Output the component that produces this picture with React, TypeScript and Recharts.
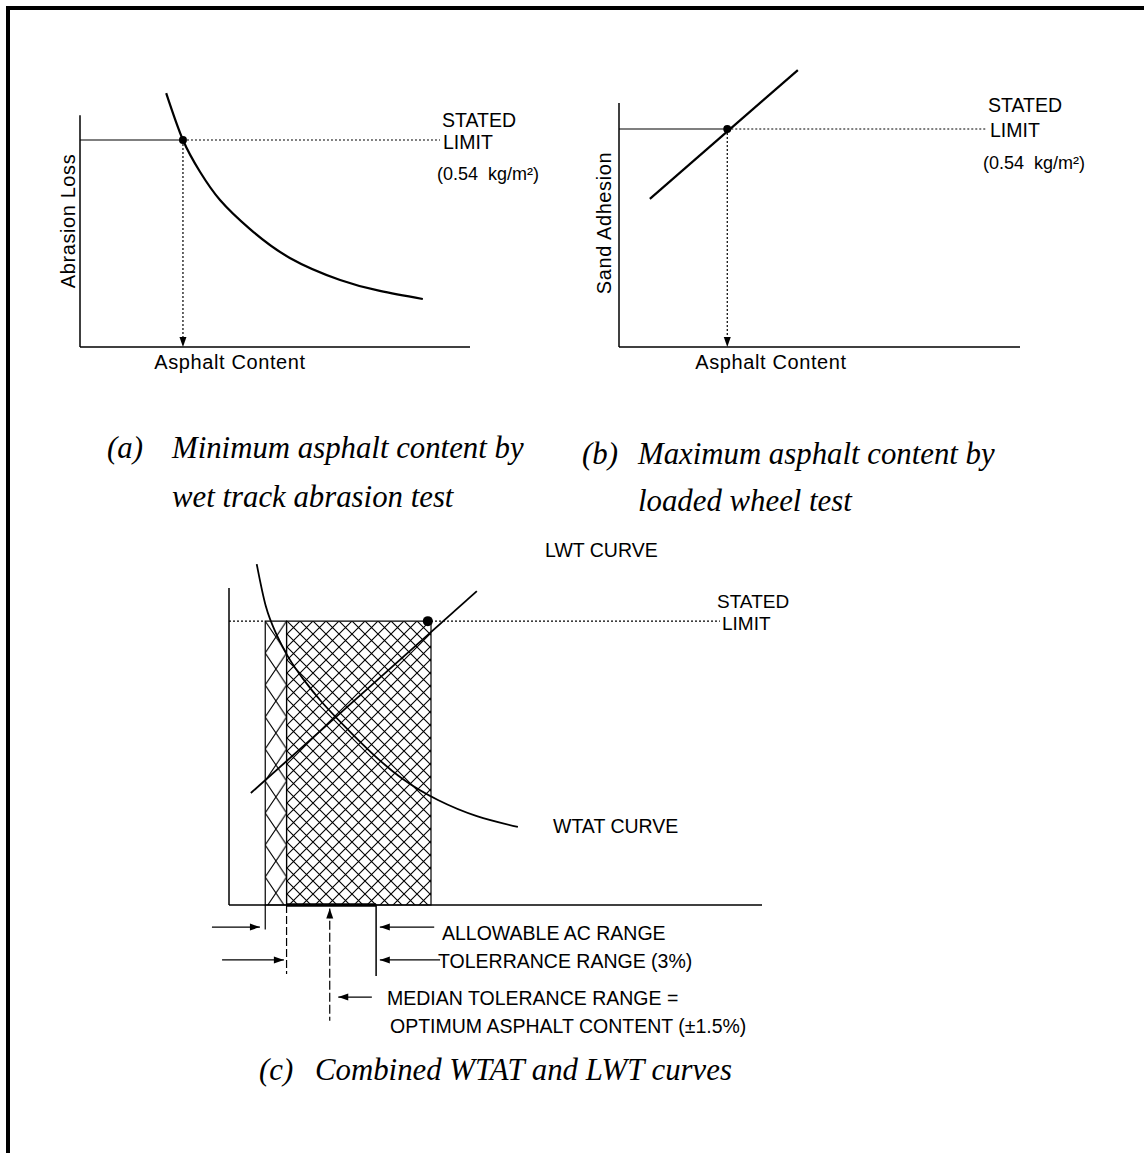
import React from 'react';
import { LineChart, Line, XAxis, YAxis, ReferenceLine, ReferenceDot, ReferenceArea } from 'recharts';

const W = 1144;
const H = 1153;

// (a) wet track abrasion test: abrasion loss vs asphalt content
const wtatContentA = [2.21, 2.64, 3.08, 3.59, 4.36, 5.38, 6.67, 7.69, 8.79];
const wtatLossA = [9.69, 7.9, 6.68, 5.61, 4.5, 3.4, 2.56, 2.14, 1.83];
const limitA = 7.9;
const minContentA = 2.64;

// (b) loaded wheel test: sand adhesion vs asphalt content
const lwtContentB = [0.77, 4.46];
const lwtAdhesionB = [5.25, 9.82];
const limitB = 7.73;
const maxContentB = 2.7;

// (c) combined curves
const wtatContentC = [0.52, 0.69, 0.88, 1.11, 1.39, 1.74, 2.18, 2.68, 3.26, 3.92, 4.65, 5.42];
const wtatLossC = [9.74, 8.54, 7.77, 7.09, 6.46, 5.8, 5.09, 4.34, 3.6, 3.0, 2.54, 2.23];
const lwtContentC = [0.41, 4.65];
const lwtAdhesionC = [3.2, 8.97];
const limitC = 8.11;
const limitPointC = 3.73;
const allowableRange = [0.68, 3.79];
const toleranceRange = [1.08, 2.76];
const medianContent = 1.89;

const toPoints = (xs: number[], ys: number[]) => xs.map((x, i) => ({ x, y: ys[i] }));

const wtatA = toPoints(wtatContentA, wtatLossA);
const lwtB = toPoints(lwtContentB, lwtAdhesionB);
const wtatC = toPoints(wtatContentC, wtatLossC);
const lwtC = toPoints(lwtContentC, lwtAdhesionC);

const arrowHead = (dir: 'up' | 'down' | 'left' | 'right') => (p: any) => {
  const { cx, cy } = p;
  const l = 10;
  const w = 3.5;
  const pts = {
    down: [[cx, cy], [cx - w, cy - l], [cx + w, cy - l]],
    up: [[cx, cy], [cx - w, cy + l], [cx + w, cy + l]],
    right: [[cx, cy], [cx - l, cy - w], [cx - l, cy + w]],
    left: [[cx, cy], [cx + l, cy - w], [cx + l, cy + w]],
  }[dir];
  return <polygon points={pts.map((q) => q.join(',')).join(' ')} fill="#000" />;
};

// horizontal arrows under the x axis of (c): [from, tip, level]
const rightArrows = [
  [-0.32, 0.58, -0.63],
  [-0.13, 1.03, -1.57],
];
const leftArrows = [
  [3.85, 2.83, -0.63],
  [3.96, 2.83, -1.57],
  [2.68, 2.05, -2.63],
];

const sans = "'Liberation Sans', Arial, Helvetica, sans-serif";
const serif = "'Liberation Serif', 'Times New Roman', serif";

export default function App() {
  return (
    <div style={{ position: 'absolute', left: 0, top: 0, width: W, height: H, background: '#fff' }}>
      <svg width={0} height={0} style={{ position: 'absolute' }}>
        <defs>
          <pattern id="hatchDense" patternUnits="userSpaceOnUse" width={13} height={13} x={287} y={621}>
            <path d="M-1,-1 L14,14 M14,-1 L-1,14" stroke="#000" strokeWidth={1.1} />
          </pattern>
          <pattern id="hatchWide" patternUnits="userSpaceOnUse" width={21.4} height={32} x={265.2} y={621}>
            <path d="M0,0 L21.4,32 M21.4,0 L0,32" stroke="#000" strokeWidth={1.1} />
          </pattern>
        </defs>
      </svg>

      {/* frame */}
      <div style={{ position: 'absolute', left: 6, top: 6, width: W - 6, height: 4, background: '#000' }} />
      <div style={{ position: 'absolute', left: 6, top: 6, width: 4, height: H - 6, background: '#000' }} />

      {/* (a) */}
      <div style={{ position: 'absolute', left: 0, top: 0 }}>
        <LineChart width={W} height={H} margin={{ top: 85, right: 674, bottom: 806, left: 80 }}>
          <XAxis type="number" dataKey="x" domain={[0, 10]} allowDataOverflow hide />
          <YAxis type="number" domain={[0, 10]} allowDataOverflow hide />
          <ReferenceLine segment={[{ x: 0, y: 0 }, { x: 0, y: 8.85 }]} stroke="#000" strokeWidth={1.5} />
          <ReferenceLine segment={[{ x: 0, y: 0 }, { x: 10, y: 0 }]} stroke="#000" strokeWidth={1.5} />
          <ReferenceLine segment={[{ x: 0, y: limitA }, { x: minContentA, y: limitA }]} stroke="#000" strokeWidth={1.2} />
          <ReferenceLine segment={[{ x: minContentA, y: limitA }, { x: 9.23, y: limitA }]} stroke="#000" strokeWidth={1.2} strokeDasharray="2 2" />
          <ReferenceLine segment={[{ x: minContentA, y: limitA }, { x: minContentA, y: 0.3 }]} stroke="#000" strokeWidth={1.2} strokeDasharray="2 2" />
          <ReferenceDot x={minContentA} y={0} shape={arrowHead('down')} />
          <Line data={wtatA} dataKey="y" type="natural" dot={false} stroke="#000" strokeWidth={2.2} isAnimationActive={false} />
          <ReferenceDot x={minContentA} y={limitA} r={4} fill="#000" stroke="none" />
        </LineChart>
      </div>

      {/* (b) */}
      <div style={{ position: 'absolute', left: 0, top: 0 }}>
        <LineChart width={W} height={H} margin={{ top: 65, right: 124, bottom: 806, left: 619 }}>
          <XAxis type="number" dataKey="x" domain={[0, 10]} allowDataOverflow hide />
          <YAxis type="number" domain={[0, 10]} allowDataOverflow hide />
          <ReferenceLine segment={[{ x: 0, y: 0 }, { x: 0, y: 8.65 }]} stroke="#000" strokeWidth={1.5} />
          <ReferenceLine segment={[{ x: 0, y: 0 }, { x: 10, y: 0 }]} stroke="#000" strokeWidth={1.5} />
          <ReferenceLine segment={[{ x: 0, y: limitB }, { x: maxContentB, y: limitB }]} stroke="#000" strokeWidth={1.2} />
          <ReferenceLine segment={[{ x: maxContentB, y: limitB }, { x: 9.18, y: limitB }]} stroke="#000" strokeWidth={1.2} strokeDasharray="2 2" />
          <ReferenceLine segment={[{ x: maxContentB, y: limitB }, { x: maxContentB, y: 0.3 }]} stroke="#000" strokeWidth={1.2} strokeDasharray="2 2" />
          <ReferenceDot x={maxContentB} y={0} shape={arrowHead('down')} />
          <Line data={lwtB} dataKey="y" type="linear" dot={false} stroke="#000" strokeWidth={2.2} isAnimationActive={false} />
          <ReferenceDot x={maxContentB} y={limitB} r={4} fill="#000" stroke="none" />
        </LineChart>
      </div>

      {/* (c) */}
      <div style={{ position: 'absolute', left: 0, top: 0 }}>
        <LineChart width={W} height={H} margin={{ top: 555, right: 382, bottom: 90.5, left: 202.35 }}>
          <XAxis type="number" dataKey="x" domain={[-0.5, 10]} allowDataOverflow hide />
          <YAxis type="number" domain={[-4.5, 10]} allowDataOverflow hide />
          <ReferenceArea x1={allowableRange[0]} x2={toleranceRange[0]} y1={0} y2={limitC} fill="url(#hatchWide)" fillOpacity={1} stroke="#000" strokeWidth={1.2} />
          <ReferenceArea x1={toleranceRange[0]} x2={allowableRange[1]} y1={0} y2={limitC} fill="url(#hatchDense)" fillOpacity={1} stroke="#000" strokeWidth={1.2} />
          <ReferenceLine segment={[{ x: 0, y: 0 }, { x: 0, y: 9.06 }]} stroke="#000" strokeWidth={1.5} />
          <ReferenceLine segment={[{ x: 0, y: 0 }, { x: 10, y: 0 }]} stroke="#000" strokeWidth={1.5} />
          <ReferenceLine segment={[{ x: toleranceRange[0], y: 0 }, { x: toleranceRange[1], y: 0 }]} stroke="#000" strokeWidth={3.5} />
          <ReferenceLine segment={[{ x: 0, y: limitC }, { x: allowableRange[0], y: limitC }]} stroke="#000" strokeWidth={1.2} strokeDasharray="2 2" />
          <ReferenceLine segment={[{ x: allowableRange[1], y: limitC }, { x: 9.21, y: limitC }]} stroke="#000" strokeWidth={1.2} strokeDasharray="2 2" />
          <Line data={wtatC} dataKey="y" type="natural" dot={false} stroke="#000" strokeWidth={1.8} isAnimationActive={false} />
          <Line data={lwtC} dataKey="y" type="linear" dot={false} stroke="#000" strokeWidth={1.8} isAnimationActive={false} />
          <ReferenceDot x={limitPointC} y={limitC} r={5} fill="#000" stroke="none" />

          {/* guides below the axis */}
          <ReferenceLine segment={[{ x: allowableRange[0], y: 0 }, { x: allowableRange[0], y: -0.7 }]} stroke="#000" strokeWidth={1.2} />
          <ReferenceLine segment={[{ x: toleranceRange[0], y: 0 }, { x: toleranceRange[0], y: -1.97 }]} stroke="#000" strokeWidth={1.2} strokeDasharray="8 3" />
          <ReferenceLine segment={[{ x: medianContent, y: -0.45 }, { x: medianContent, y: -3.31 }]} stroke="#000" strokeWidth={1.2} strokeDasharray="9 3" />
          <ReferenceLine segment={[{ x: toleranceRange[1], y: 0 }, { x: toleranceRange[1], y: -2.03 }]} stroke="#000" strokeWidth={1.5} />
          <ReferenceLine segment={[{ x: medianContent, y: -0.1 }, { x: medianContent, y: -0.38 }]} stroke="#000" strokeWidth={1.2} />
          <ReferenceDot x={medianContent} y={-0.1} shape={arrowHead('up')} />
          {rightArrows.map(([from, tip, lvl], i) => (
            <ReferenceLine key={`rl${i}`} segment={[{ x: from, y: lvl }, { x: tip, y: lvl }]} stroke="#000" strokeWidth={1.2} />
          ))}
          {rightArrows.map(([, tip, lvl], i) => (
            <ReferenceDot key={`rd${i}`} x={tip} y={lvl} shape={arrowHead('right')} />
          ))}
          {leftArrows.map(([from, tip, lvl], i) => (
            <ReferenceLine key={`ll${i}`} segment={[{ x: from, y: lvl }, { x: tip, y: lvl }]} stroke="#000" strokeWidth={1.2} />
          ))}
          {leftArrows.map(([, tip, lvl], i) => (
            <ReferenceDot key={`ld${i}`} x={tip} y={lvl} shape={arrowHead('left')} />
          ))}
        </LineChart>
      </div>

      {/* text */}
      <svg width={W} height={H} style={{ position: 'absolute', left: 0, top: 0, pointerEvents: 'none' }}>
        <g fontFamily={sans} fontSize={19.5} fill="#000">
          <text x={442} y={127}>STATED</text>
          <text x={443} y={149}>LIMIT</text>
          <text x={437} y={180} fontSize={18} style={{ whiteSpace: 'pre' }}>(0.54  kg/m²)</text>
          <text transform="translate(75,221) rotate(-90)" textAnchor="middle" fontSize={20} letterSpacing={0.6}>Abrasion Loss</text>
          <text x={230} y={369} textAnchor="middle" fontSize={20} letterSpacing={0.6}>Asphalt Content</text>

          <text x={988} y={112}>STATED</text>
          <text x={990} y={137}>LIMIT</text>
          <text x={983} y={169} fontSize={18} style={{ whiteSpace: 'pre' }}>(0.54  kg/m²)</text>
          <text transform="translate(611,223) rotate(-90)" textAnchor="middle" fontSize={20} letterSpacing={0.6}>Sand Adhesion</text>
          <text x={771} y={369} textAnchor="middle" fontSize={20} letterSpacing={0.6}>Asphalt Content</text>

          <text x={545} y={557}>LWT CURVE</text>
          <text x={717} y={608} fontSize={19}>STATED</text>
          <text x={722} y={630} fontSize={19}>LIMIT</text>
          <text x={553} y={833}>WTAT CURVE</text>
          <text x={442} y={940}>ALLOWABLE AC RANGE</text>
          <text x={438} y={968}>TOLERRANCE RANGE (3%)</text>
          <text x={387} y={1005}>MEDIAN TOLERANCE RANGE =</text>
          <text x={390} y={1033}>OPTIMUM ASPHALT CONTENT (±1.5%)</text>
        </g>
        <g fontFamily={serif} fontStyle="italic" fontSize={30.8} fill="#000">
          <text x={107} y={458}>(a)</text>
          <text x={172} y={458}>Minimum asphalt content by</text>
          <text x={172} y={507}>wet track abrasion test</text>
          <text x={582} y={464}>(b)</text>
          <text x={638} y={464}>Maximum asphalt content by</text>
          <text x={638} y={511}>loaded wheel test</text>
          <text x={259} y={1080}>(c)</text>
          <text x={315} y={1080}>Combined WTAT and LWT curves</text>
        </g>
      </svg>
    </div>
  );
}
